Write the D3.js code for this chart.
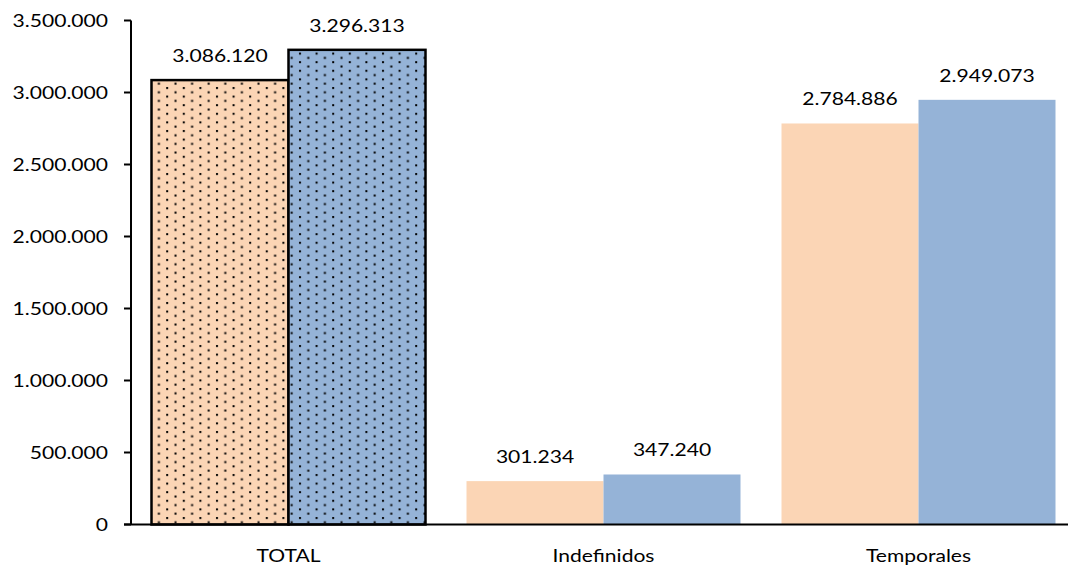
<!DOCTYPE html>
<html>
<head>
<meta charset="utf-8">
<script src="https://cdn.jsdelivr.net/npm/d3@7"></script>
<style>
  html, body { margin: 0; padding: 0; background: #fff; }
  svg { display: block; }
  text { font-family: Lato, "Open Sans", sans-serif; fill: #000; }
</style>
</head>
<body>
<svg id="chart" width="1068" height="570"></svg>
<script>
const categories = ["TOTAL", "Indefinidos", "Temporales"];
const seriesNames = ["Serie A", "Serie B"];
const seriesA = [3086120, 301234, 2784886];
const seriesB = [3296313, 347240, 2949073];
const yTicks = [0, 500000, 1000000, 1500000, 2000000, 2500000, 3000000, 3500000];
const colors = ["#FBD5B5", "#95B3D7"];
const patterned = ["TOTAL"];

const svg = d3.select("#chart");
const SX = 1.24; // horizontal stretch of the reference text
const fontSize = 17;

const x0 = d3.scaleBand().domain(categories).range([131, 1076]).padding(0);
const x1 = d3.scaleBand().domain(seriesNames).range([20.5, x0.bandwidth() - 20.5]).padding(0);
const y = d3.scaleLinear().domain([0, 3500000]).range([524.5, 20.5]);

const fmt = v => d3.format(",")(v).replace(/,/g, ".");

// patterns
const defs = svg.append("defs");
colors.forEach((c, i) => {
  const p = defs.append("pattern")
    .attr("id", "dots" + i)
    .attr("patternUnits", "userSpaceOnUse")
    .attr("width", 16.6).attr("height", 8.6);
  p.append("rect").attr("width", 16.6).attr("height", 8.6).attr("fill", c);
  p.append("rect").attr("x", 2).attr("y", 1).attr("width", 2).attr("height", 2).attr("fill", "#000");
  p.append("rect").attr("x", 10.3).attr("y", 5.3).attr("width", 2).attr("height", 2).attr("fill", "#000");
});

const data = categories.map((c, i) => ({cat: c, vals: [seriesA[i], seriesB[i]]}));

const groups = svg.append("g").selectAll("g").data(data).join("g")
  .attr("transform", d => `translate(${x0(d.cat)},0)`);

groups.selectAll("rect").data(d => d.vals.map((v, j) => ({cat: d.cat, v, j})))
  .join("rect")
  .attr("x", d => x1(seriesNames[d.j]))
  .attr("y", d => y(d.v))
  .attr("width", x1.bandwidth())
  .attr("height", d => y(0) - y(d.v))
  .attr("fill", d => patterned.includes(d.cat) ? `url(#dots${d.j})` : colors[d.j])
  .attr("stroke", d => patterned.includes(d.cat) ? "#000" : "none")
  .attr("stroke-width", 2.5);

// data labels
groups.selectAll("text.lbl").data(d => d.vals.map((v, j) => ({v, j})))
  .join("text").attr("class", "lbl")
  .attr("transform", d => `translate(${x1(seriesNames[d.j]) + x1.bandwidth() / 2},${y(d.v) - 18}) scale(${SX},1)`)
  .attr("text-anchor", "middle")
  .attr("font-size", fontSize)
  .text(d => fmt(d.v));

// y axis
const yAxis = svg.append("g");
yAxis.append("line").attr("x1", 131).attr("x2", 131).attr("y1", y(3500000)).attr("y2", y(0))
  .attr("stroke", "#000").attr("stroke-width", 2);
yAxis.selectAll("line.tick").data(yTicks).join("line").attr("class", "tick")
  .attr("x1", 124).attr("x2", 131).attr("y1", d => y(d)).attr("y2", d => y(d))
  .attr("stroke", "#000").attr("stroke-width", 2);
yAxis.selectAll("text").data(yTicks).join("text")
  .attr("transform", d => `translate(108,${y(d) + 6.3}) scale(${SX},1)`)
  .attr("text-anchor", "end")
  .attr("font-size", fontSize)
  .text(d => fmt(d));

// x axis
svg.append("line").attr("x1", 124).attr("x2", 1068).attr("y1", y(0)).attr("y2", y(0))
  .attr("stroke", "#000").attr("stroke-width", 2);
svg.append("g").selectAll("text").data(categories).join("text")
  .attr("transform", d => `translate(${x0(d) + x0.bandwidth() / 2},561.6) scale(${SX},1)`)
  .attr("text-anchor", "middle")
  .attr("font-size", fontSize)
  .text(d => d);
</script>
</body>
</html>
